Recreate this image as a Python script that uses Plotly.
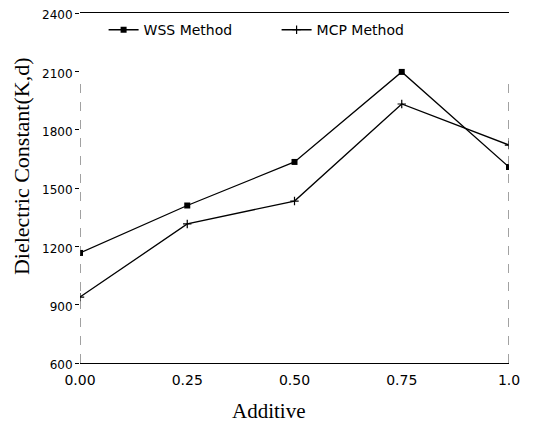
import plotly.graph_objects as go

additive = [0.0, 0.25, 0.5, 0.75, 1.0]
wss_method = [1166, 1410, 1634, 2097, 1608]
mcp_method = [939, 1315, 1433, 1932, 1721]
y_ticks = [600, 900, 1200, 1500, 1800, 2100, 2400]
y_tick_labels = ["600", "900", "1200", "1500", "1800", "2100", "2400"]
x_ticks = [0.0, 0.25, 0.5, 0.75, 1.0]
x_tick_labels = ["0.00", "0.25", "0.50", "0.75", "1.0"]

SANS = "DejaVu Sans, Verdana, Arial"
SERIF = "Liberation Serif, Times New Roman"

fig = go.Figure()
fig.add_trace(go.Scatter(
    x=additive, y=wss_method, mode="lines+markers", name="WSS Method",
    line=dict(color="black", width=1.3),
    marker=dict(symbol="square", size=6, color="black"),
))
fig.add_trace(go.Scatter(
    x=additive, y=mcp_method, mode="lines+markers", name="MCP Method",
    line=dict(color="black", width=1.3),
    marker=dict(symbol="cross-thin", size=6, color="black", line=dict(color="black", width=1.2)),
))

for xv in [0.0, 1.0]:
    fig.add_shape(type="line", xref="x", yref="paper", x0=xv, x1=xv, y0=0, y1=0.8,
                  line=dict(color="#444", width=1, dash="dash"))

fig.add_annotation(text="Additive", xref="paper", yref="paper", x=0.4406, y=-0.137,
                   showarrow=False, xanchor="center", yanchor="middle",
                   font=dict(family=SERIF, size=21, color="black"))
fig.add_annotation(text="Dielectric Constant(K,d)", xref="paper", yref="paper", x=-0.135, y=0.563,
                   showarrow=False, xanchor="center", yanchor="middle", textangle=-90,
                   font=dict(family=SERIF, size=22, color="black"))

fig.update_layout(
    width=530, height=415,
    margin=dict(l=72, r=29, t=5, b=60, autoexpand=False),
    paper_bgcolor="white", plot_bgcolor="white",
    font=dict(family=SANS, color="black", size=13),
    showlegend=True,
    legend=dict(orientation="h", x=0.055, y=0.951, xanchor="left", yanchor="middle",
                bgcolor="rgba(0,0,0,0)", font=dict(size=14, family=SANS),
                entrywidth=128, entrywidthmode="pixels", tracegroupgap=0),
    xaxis=dict(range=[0, 1.0], tickvals=x_ticks, ticktext=x_tick_labels, automargin=False,
               showgrid=False, zeroline=False, showline=True, linecolor="black", linewidth=1.2,
               mirror=True, ticks="", ticklen=0, ticklabeloverflow="allow",
               ticklabelstandoff=4, tickfont=dict(size=14)),
    yaxis=dict(range=[600, 2400], tickvals=y_ticks, ticktext=y_tick_labels, automargin=False,
               showgrid=False, zeroline=False, showline=False,
               ticks="outside", ticklen=4, tickcolor="black", ticklabeloverflow="allow",
               ticklabelshift=2, tickfont=dict(size=12)),
)

fig.write_html("out.html")
